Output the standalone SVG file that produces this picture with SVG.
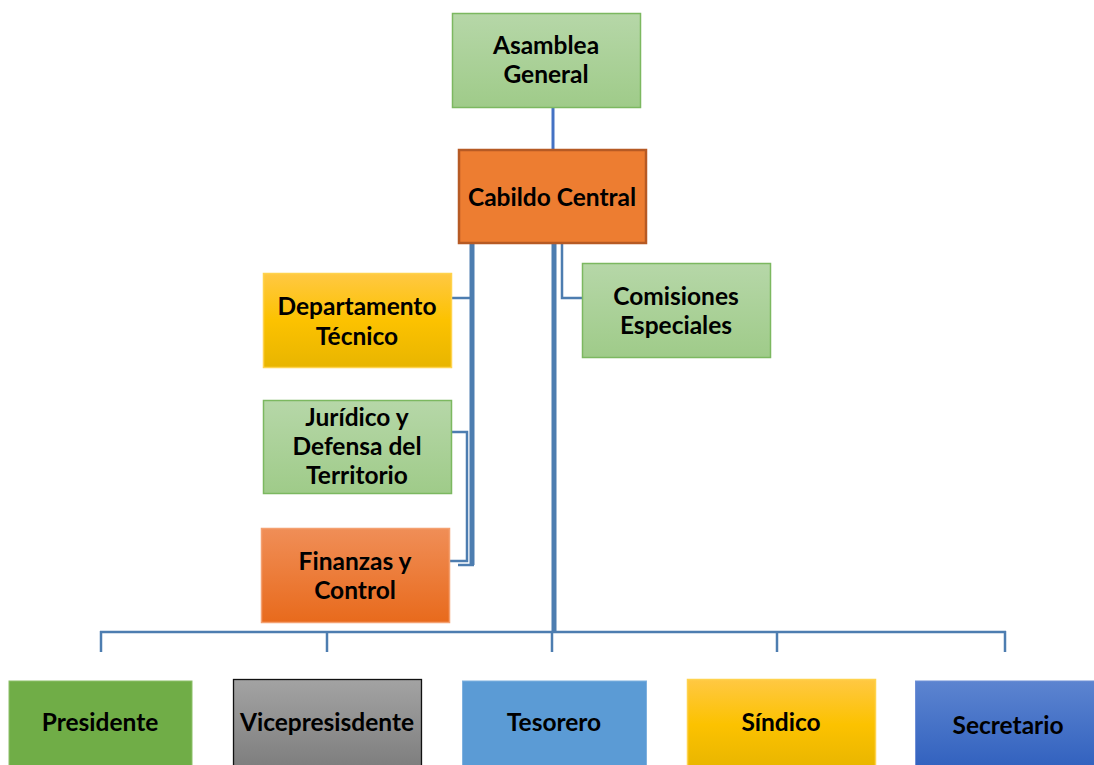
<svg xmlns="http://www.w3.org/2000/svg" width="1094" height="765" viewBox="0 0 1094 765">
<defs>
<linearGradient id="gGreen" x1="0" y1="0" x2="0" y2="1"><stop offset="0" stop-color="#b6d7a8"/><stop offset="1" stop-color="#9fcb89"/></linearGradient>
<linearGradient id="gGold" x1="0" y1="0" x2="0" y2="1"><stop offset="0" stop-color="#ffc843"/><stop offset="0.5" stop-color="#fcc200"/><stop offset="1" stop-color="#e8b500"/></linearGradient>
<linearGradient id="gOrange" x1="0" y1="0" x2="0" y2="1"><stop offset="0" stop-color="#f08e57"/><stop offset="1" stop-color="#e86a1c"/></linearGradient>
<linearGradient id="gGray" x1="0" y1="0" x2="0" y2="1"><stop offset="0" stop-color="#a3a3a3"/><stop offset="1" stop-color="#7d7d7d"/></linearGradient>
<linearGradient id="gBlue" x1="0" y1="0" x2="0" y2="1"><stop offset="0" stop-color="#5c84d0"/><stop offset="1" stop-color="#3060be"/></linearGradient>
</defs>
<style>
text{font-family:Lato,"Open Sans","Liberation Sans",sans-serif;font-weight:bold;font-size:24.5px;fill:#000;text-anchor:middle}
.conn line,.conn polyline{stroke:#4d7db0;fill:none}
.thin{stroke-width:2.5}
.thick{stroke-width:5}
</style>
<rect width="1094" height="765" fill="#fff"/>
<g class="conn" id="connectors">
<line x1="553" y1="107" x2="553" y2="151" style="stroke:#4472c4" stroke-width="3"/>
<line class="thick" x1="472" y1="244" x2="472" y2="565"/>
<line class="thin" x1="452" y1="298" x2="472" y2="298"/>
<polyline class="thin" points="451,432 467,432 467,561 449,561"/>
<line class="thin" x1="458" y1="565" x2="474" y2="565"/>
<line class="thick" x1="554" y1="244" x2="554" y2="633"/>
<polyline class="thin" points="562,244 562,298 582,298"/>
<line class="thin" x1="100" y1="632" x2="1006" y2="632"/>
<line class="thin" x1="101" y1="631" x2="101" y2="652"/>
<line class="thin" x1="327" y1="631" x2="327" y2="652"/>
<line class="thin" x1="552" y1="631" x2="552" y2="652"/>
<line class="thin" x1="777" y1="631" x2="777" y2="652"/>
<line class="thin" x1="1005" y1="631" x2="1005" y2="652"/>
</g>
<g id="asamblea">
<rect x="452.5" y="13.5" width="188" height="94" fill="url(#gGreen)" stroke="#7cb860" stroke-width="1.5"/>
<text x="546" y="54">Asamblea</text><text x="546" y="83">General</text>
</g>
<g id="cabildo">
<rect x="459" y="150" width="187" height="93" fill="#ed7d31" stroke="#b65a24" stroke-width="2.5"/>
<text x="552" y="206">Cabildo Central</text>
</g>
<g id="departamento">
<rect x="263.5" y="273.5" width="188" height="94" fill="url(#gGold)" stroke="#ffd34d" stroke-width="1.5"/>
<text x="357" y="315">Departamento</text><text x="357" y="345">Técnico</text>
</g>
<g id="comisiones">
<rect x="582.5" y="263.5" width="188" height="94" fill="url(#gGreen)" stroke="#7cb860" stroke-width="1.5"/>
<text x="676" y="305">Comisiones</text><text x="676" y="334">Especiales</text>
</g>
<g id="juridico">
<rect x="263.5" y="400.5" width="188" height="93" fill="url(#gGreen)" stroke="#7cb860" stroke-width="1.5"/>
<text x="357" y="426">Jurídico y</text><text x="357" y="455">Defensa del</text><text x="357" y="484">Territorio</text>
</g>
<g id="finanzas">
<rect x="261.5" y="528.5" width="188" height="94" fill="url(#gOrange)" stroke="#f4a070" stroke-width="1.5"/>
<text x="355" y="570">Finanzas y</text><text x="355" y="599">Control</text>
</g>
<g id="presidente">
<rect x="9" y="681" width="183" height="90" fill="#70ad47" stroke="#8cc068" stroke-width="1"/>
<text x="100" y="731">Presidente</text>
</g>
<g id="vicepresidente">
<rect x="233.5" y="679.5" width="188" height="90" fill="url(#gGray)" stroke="#111" stroke-width="1.3"/>
<text x="327" y="731">Vicepresisdente</text>
</g>
<g id="tesorero">
<rect x="462.5" y="681" width="184" height="90" fill="#5b9bd5" stroke="#7fb1df" stroke-width="1"/>
<text x="554" y="731">Tesorero</text>
</g>
<g id="sindico">
<rect x="687.5" y="679.5" width="188" height="90" fill="url(#gGold)" stroke="#ffd34d" stroke-width="1.5"/>
<text x="781" y="731">Síndico</text>
</g>
<g id="secretario">
<rect x="915.5" y="681" width="190" height="90" fill="url(#gBlue)" stroke="#6f8fd6" stroke-width="1"/>
<text x="1008" y="734">Secretario</text>
</g>
</svg>
